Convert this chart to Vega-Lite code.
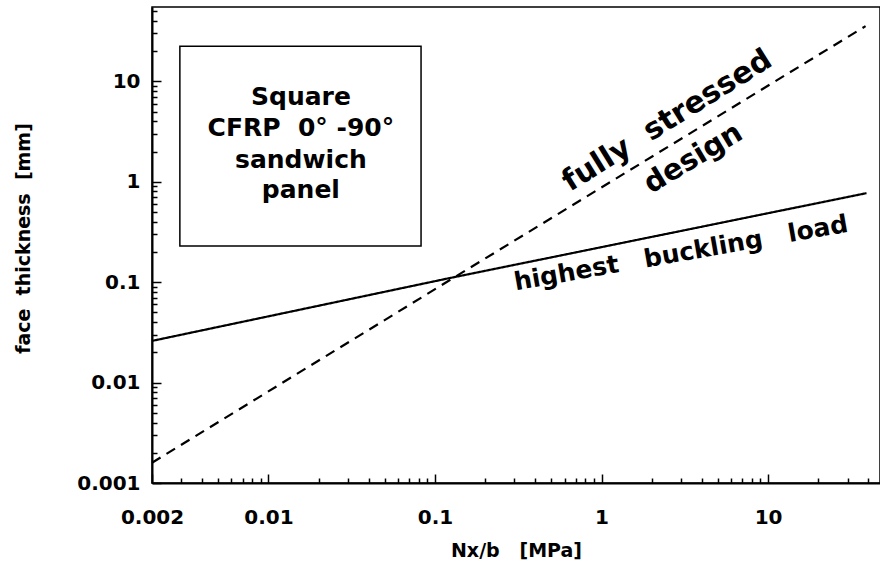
{
  "$schema": "https://vega.github.io/schema/vega-lite/v6.json",
  "autosize": {"type": "none"},
  "padding": {"left": 152, "top": 7, "right": 0, "bottom": 83},
  "width": 728,
  "height": 476,
  "background": "white",
  "view": {"stroke": "black", "strokeWidth": 1.5},
  "config": {
    "font": "DejaVu Sans",
    "axis": {
      "domainColor": "black",
      "domainWidth": 2,
      "tickColor": "black",
      "tickWidth": 1.5,
      "labelColor": "black",
      "labelFont": "DejaVu Sans",
      "labelFontWeight": "bold",
      "labelFontSize": 20,
      "labelOverlap": false,
      "labelFlush": false,
      "titleFont": "DejaVu Sans",
      "titleFontWeight": "bold",
      "titleFontSize": 19,
      "titleColor": "black",
      "grid": false
    }
  },
  "datasets": {
    "lines": [
      {"series": "highest buckling load", "x": 0.002, "y": 0.026},
      {"series": "highest buckling load", "x": 0.123, "y": 0.11},
      {"series": "highest buckling load", "x": 39, "y": 0.77},
      {"series": "fully stressed design", "x": 0.002, "y": 0.00159},
      {"series": "fully stressed design", "x": 0.123, "y": 0.105},
      {"series": "fully stressed design", "x": 38.5, "y": 35.5}
    ],
    "box": [
      {"x": 0.00294, "x2": 0.0825, "y": 0.229, "y2": 22.4}
    ],
    "boxtext": [
      {"label": "Square", "x": 0.01567, "y": 6.96},
      {"label": "CFRP\u00a0\u00a00°\u00a0-90°", "x": 0.01567, "y": 3.42},
      {"label": "sandwich", "x": 0.01567, "y": 1.64},
      {"label": "panel", "x": 0.01567, "y": 0.826}
    ],
    "steep": [
      {"label": "fully\u00a0\u00a0stressed", "x": 2.48, "y": 4.05}
    ],
    "steep2": [
      {"label": "design", "x": 3.55, "y": 1.72}
    ],
    "shallow": [
      {"label": "highest\u00a0\u00a0\u00a0buckling\u00a0\u00a0\u00a0load", "x": 3.0, "y": 0.195}
    ]
  },
  "layer": [
    {
      "data": {"name": "lines"},
      "mark": {"type": "line", "color": "black", "strokeWidth": 2.2},
      "encoding": {
        "x": {
          "field": "x", "type": "quantitative",
          "scale": {"type": "log", "domain": [0.002, 47], "nice": false},
          "title": "Nx/b\u00a0\u00a0\u00a0[MPa]",
          "axis": {
            "values": [0.002,0.003,0.004,0.005,0.006,0.007,0.008,0.009,0.01,0.02,0.03,0.04,0.05,0.06,0.07,0.08,0.09,0.1,0.2,0.3,0.4,0.5,0.6,0.7,0.8,0.9,1,2,3,4,5,6,7,8,9,10,20,30,40],
            "format": "~g",
            "labelExpr": "indexof([0.002,0.01,0.1,1,10], datum.value) >= 0 ? datum.label : ''",
            "tickSize": {"condition": {"test": "indexof([0.002,0.01,0.1,1,10], datum.value) >= 0", "value": -9}, "value": -5},
            "labelPadding": 33,
            "titlePadding": 10
          }
        },
        "y": {
          "field": "y", "type": "quantitative",
          "scale": {"type": "log", "domain": [0.001, 55], "nice": false},
          "title": "face\u00a0\u00a0thickness\u00a0\u00a0[mm]",
          "axis": {
            "values": [0.001,0.002,0.003,0.004,0.005,0.006,0.007,0.008,0.009,0.01,0.02,0.03,0.04,0.05,0.06,0.07,0.08,0.09,0.1,0.2,0.3,0.4,0.5,0.6,0.7,0.8,0.9,1,2,3,4,5,6,7,8,9,10,20,30,40,50],
            "format": "~g",
            "labelExpr": "indexof([0.001,0.01,0.1,1,10], datum.value) >= 0 ? datum.label : ''",
            "tickSize": {"condition": {"test": "indexof([0.001,0.01,0.1,1,10], datum.value) >= 0", "value": -9}, "value": -5},
            "labelPadding": 21,
            "titleBaseline": "middle",
            "titleX": -129,
            "titleY": 231
          }
        },
        "detail": {"field": "series"},
        "strokeDash": {
          "field": "series", "type": "nominal",
          "scale": {"domain": ["highest buckling load", "fully stressed design"], "range": [[1, 0], [10, 7]]},
          "legend": null
        }
      }
    },
    {
      "data": {"name": "box"},
      "mark": {"type": "rect", "fill": null, "stroke": "black", "strokeWidth": 1.5},
      "encoding": {
        "x": {"field": "x", "type": "quantitative", "title": "Nx/b\u00a0\u00a0\u00a0[MPa]"},
        "x2": {"field": "x2"},
        "y": {"field": "y", "type": "quantitative", "title": "face\u00a0\u00a0thickness\u00a0\u00a0[mm]"},
        "y2": {"field": "y2"}
      }
    },
    {
      "data": {"name": "boxtext"},
      "mark": {"type": "text", "font": "DejaVu Sans", "fontWeight": "bold", "fontSize": 25, "color": "black", "align": "center", "baseline": "middle"},
      "encoding": {
        "x": {"field": "x", "type": "quantitative", "title": "Nx/b\u00a0\u00a0\u00a0[MPa]"},
        "y": {"field": "y", "type": "quantitative", "title": "face\u00a0\u00a0thickness\u00a0\u00a0[mm]"},
        "text": {"field": "label"}
      }
    },
    {
      "data": {"name": "steep"},
      "mark": {"type": "text", "font": "DejaVu Sans", "fontWeight": "bold", "fontSize": 30, "color": "black", "align": "center", "baseline": "middle", "angle": -32},
      "encoding": {
        "x": {"field": "x", "type": "quantitative", "title": "Nx/b\u00a0\u00a0\u00a0[MPa]"},
        "y": {"field": "y", "type": "quantitative", "title": "face\u00a0\u00a0thickness\u00a0\u00a0[mm]"},
        "text": {"field": "label"}
      }
    },
    {
      "data": {"name": "steep2"},
      "mark": {"type": "text", "font": "DejaVu Sans", "fontWeight": "bold", "fontSize": 29, "color": "black", "align": "center", "baseline": "middle", "angle": -31},
      "encoding": {
        "x": {"field": "x", "type": "quantitative", "title": "Nx/b\u00a0\u00a0\u00a0[MPa]"},
        "y": {"field": "y", "type": "quantitative", "title": "face\u00a0\u00a0thickness\u00a0\u00a0[mm]"},
        "text": {"field": "label"}
      }
    },
    {
      "data": {"name": "shallow"},
      "mark": {"type": "text", "font": "DejaVu Sans", "fontWeight": "bold", "fontSize": 25, "color": "black", "align": "center", "baseline": "middle", "angle": -10},
      "encoding": {
        "x": {"field": "x", "type": "quantitative", "title": "Nx/b\u00a0\u00a0\u00a0[MPa]"},
        "y": {"field": "y", "type": "quantitative", "title": "face\u00a0\u00a0thickness\u00a0\u00a0[mm]"},
        "text": {"field": "label"}
      }
    }
  ]
}
